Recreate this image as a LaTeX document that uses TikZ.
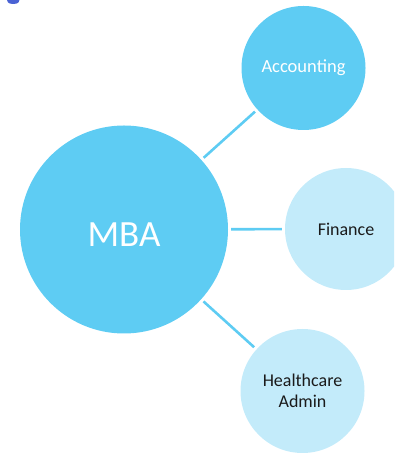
\documentclass[tikz,border=0pt]{standalone}
\usepackage{fontspec}
\setmainfont{Carlito}
\definecolor{darkc}{HTML}{5ECCF3}
\definecolor{lightc}{HTML}{C3EBFA}
\definecolor{blobc}{HTML}{4A62D4}
\definecolor{txtc}{HTML}{1A1A1A}
\tikzset{
  bigc/.style={circle, fill=darkc, draw=none, inner sep=0pt, minimum size=208pt, text=white, font=\fontsize{35}{40}\selectfont},
  darkbub/.style={circle, fill=darkc, draw=none, inner sep=0pt, minimum size=124pt, text=white, font=\fontsize{18.5}{21}\selectfont},
  lightbub/.style={circle, fill=lightc, draw=none, inner sep=0pt, minimum size=124pt, text=txtc, align=center, font=\fontsize{18}{20.5}\selectfont},
  link/.style={draw=darkc, line width=2.6pt, shorten <=3pt, shorten >=3pt}
}
\begin{document}
\begin{tikzpicture}[x=1pt,y=1pt]
\useasboundingbox (0,0) rectangle (394,454);
\begin{scope}
\clip (0,0) rectangle (394,454);
\fill[blobc] (7,454) -- (19.5,454) -- (18.5,451.5) .. controls (16.5,449.5) and (10,449.5) .. (8,451.5) -- cycle;
\node[bigc] (mba) at (124,224.5) {};
\node[text=white, font=\fontsize{37}{42}\selectfont] (mbat) at (124,219) {MBA};
\node[darkbub] (acc) at (303.5,386) {Accounting};
\node[lightbub, minimum size=122pt] (fin) at (346,225) {Finance};
\node[lightbub] (hc) at (302.5,63) {Healthcare\\Admin};
\draw[link] (mba) -- (acc);
\draw[link] (mba) -- (fin);
\draw[link] (mba) -- (hc);
\end{scope}
\end{tikzpicture}
\end{document}
